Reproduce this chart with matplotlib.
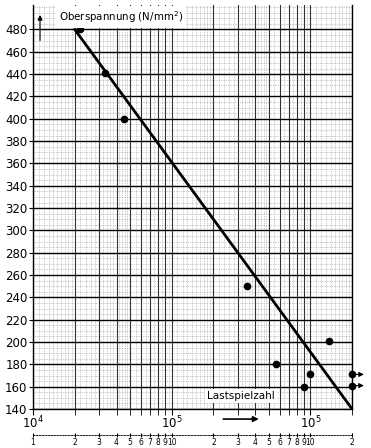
import matplotlib.pyplot as plt
import numpy as np

# Woehler-Linie: Oberspannung ueber Lastspielzahl
points_N = [2.18e4, 3.3e4, 4.5e4, 3.5e5, 5.7e5, 9.0e5, 1.0e6, 1.37e6]
points_S = [480, 441, 400, 250, 180, 160, 171, 201]
runout_N = [2e6, 2e6]
runout_S = [171, 161]
line_N = [2e4, 2e6]
line_S = [480, 140]

y_ticks = list(range(140, 481, 20))
x_major = [1e4, 1e5, 1e6]
x_major_labels = ['$10^4$', '$10^5$', '$10^5$']
sub_ticks = [1e4, 2e4, 3e4, 4e4, 5e4, 6e4, 7e4, 8e4, 9e4,
             1e5, 2e5, 3e5, 4e5, 5e5, 6e5, 7e5, 8e5, 9e5, 1e6, 2e6]
sub_labels = ['1', '2', '3', '4', '5', '6', '7', '8', '9', '10',
              '2', '3', '4', '5', '6', '7', '8', '9', '10', '2']

fig = plt.figure(figsize=(3.71, 4.48), dpi=100)
ax = fig.add_axes([0.089, 0.087, 0.860, 0.902])
ax.set_xscale('log')
ax.set_xlim(1e4, 2e6)
ax.set_ylim(140, 502)

# fine grid (dotted)
minor_x = []
for dec in [1e4, 1e5, 1e6]:
    for m in np.arange(1.1, 2.0, 0.1):
        minor_x.append(m * dec)
    for m in np.arange(2.2, 5.0, 0.2):
        minor_x.append(m * dec)
    for m in np.arange(5.5, 10.0, 0.5):
        minor_x.append(m * dec)
for xv in minor_x:
    if xv < 2e6:
        ax.axvline(xv, color='0.6', lw=0.5, ls=(0, (1, 1.5)), zorder=1)
for yv in range(140, 502, 5):
    ax.axhline(yv, color='0.6', lw=0.5, ls=(0, (1, 1.5)), zorder=1)

# main grid (solid)
for xv in sub_ticks:
    ax.axvline(xv, color='0.2', lw=0.8, zorder=2)
for yv in y_ticks:
    ax.axhline(yv, color='black', lw=1.0, zorder=2)

ax.plot(line_N, line_S, color='black', lw=2, zorder=4)
ax.plot(points_N, points_S, 'o', color='black', ms=4.5, zorder=5)
ax.plot(runout_N, runout_S, 'o', color='black', ms=4.5, zorder=5, clip_on=False)
for s in runout_S:
    ax.annotate('', xy=(2.55e6, s), xytext=(2e6, s), annotation_clip=False,
                arrowprops=dict(arrowstyle='-|>', color='black', lw=0.8,
                                mutation_scale=7))

ax.set_yticks(y_ticks)
ax.tick_params(axis='y', labelsize=8.5, length=3, pad=1)
ax.set_xticks(x_major)
ax.set_xticklabels(x_major_labels)
ax.set_xticks(sub_ticks, minor=True)
ax.xaxis.set_minor_formatter(plt.NullFormatter())
ax.tick_params(axis='x', which='major', labelsize=8.5, length=4, pad=0)
ax.tick_params(axis='x', which='minor', length=4)
ax.spines['top'].set_visible(False)
for sp in ['left', 'right', 'bottom']:
    ax.spines[sp].set_linewidth(1.0)

# second scale below
ax2 = ax.twiny()
ax2.set_xscale('log')
ax2.set_xlim(1e4, 2e6)
ax2.xaxis.set_ticks_position('bottom')
ax2.xaxis.set_label_position('bottom')
ax2.spines['bottom'].set_position(('outward', 19))
ax2.spines['bottom'].set_linestyle((0, (2, 1.5)))
ax2.spines['bottom'].set_linewidth(0.6)
for sp in ['top', 'left', 'right']:
    ax2.spines[sp].set_visible(False)
ax2.set_xticks(sub_ticks)
ax2.set_xticklabels(sub_labels)
ax2.xaxis.set_minor_locator(plt.NullLocator())
ax2.tick_params(axis='x', labelsize=5.5, length=3, direction='inout', pad=0.5)

ax.text(0.082, 0.97, 'Oberspannung (N/mm$^2$)', transform=ax.transAxes,
        fontsize=7.4, ha='left', va='center', zorder=6,
        bbox=dict(facecolor='white', edgecolor='none', pad=2))
ax.annotate('', xy=(0.022, 0.982), xytext=(0.022, 0.905), xycoords='axes fraction',
            arrowprops=dict(arrowstyle='-|>', color='black', lw=0.8, mutation_scale=7))
ax.text(3.15e5, 152, 'Lastspielzahl', fontsize=7.5, ha='center', va='center', zorder=6,
        bbox=dict(facecolor='white', edgecolor='none', pad=1.5))
ax.annotate('', xy=(4.45e5, 131), xytext=(2.25e5, 131), annotation_clip=False,
            arrowprops=dict(arrowstyle='-|>', color='black', lw=1.2, mutation_scale=8))

fig.savefig('out.png', dpi=100)
